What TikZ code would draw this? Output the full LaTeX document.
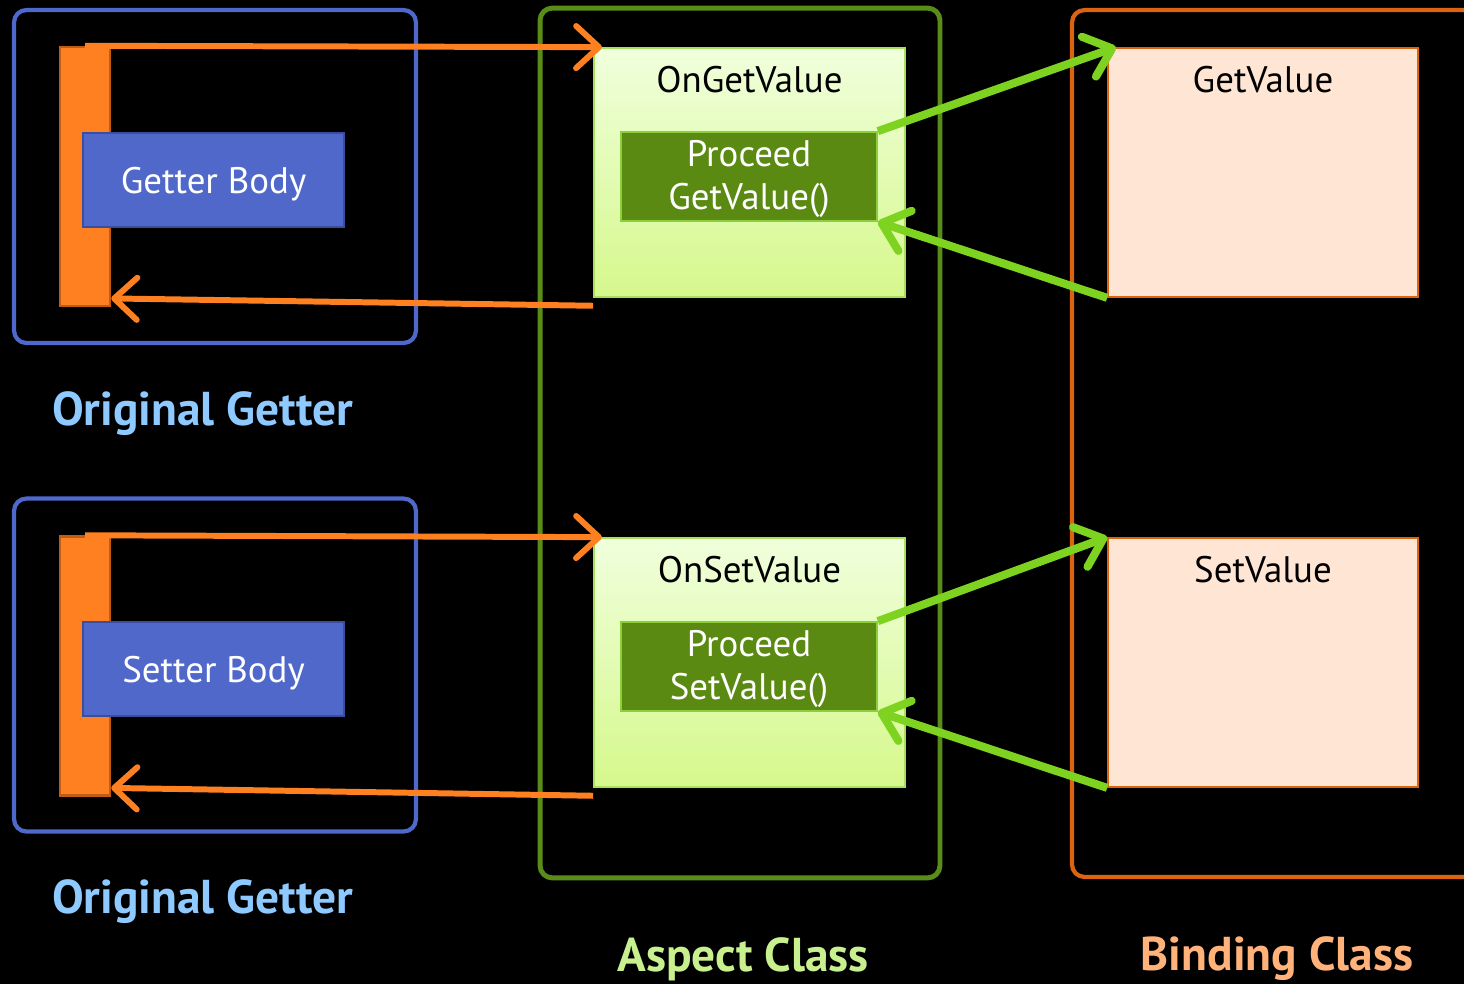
\documentclass[tikz,border=0pt]{standalone}
\usepackage{fontspec}
\setmainfont{PT Sans}
\usetikzlibrary{arrows.meta}

\definecolor{frameblue}{RGB}{78,104,204}
\definecolor{bodyblue}{RGB}{80,104,201}
\definecolor{bodyline}{RGB}{58,78,160}
\definecolor{barorange}{RGB}{255,128,32}
\definecolor{barline}{RGB}{192,92,24}
\definecolor{aspectgreen}{RGB}{90,140,26}
\definecolor{advtop}{RGB}{240,255,220}
\definecolor{advbottom}{RGB}{214,248,140}
\definecolor{advline}{RGB}{166,224,92}
\definecolor{procgreen}{RGB}{90,138,18}
\definecolor{procline}{RGB}{140,207,60}
\definecolor{arrowgreen}{RGB}{126,211,33}
\definecolor{bindorange}{RGB}{220,100,16}
\definecolor{bindfill}{RGB}{255,229,211}
\definecolor{titleblue}{RGB}{142,201,255}
\definecolor{titlegreen}{RGB}{201,240,143}
\definecolor{titleorange}{RGB}{255,178,122}

\tikzset{
  txt/.style={font=\fontsize{21}{25}\selectfont},
  title/.style={font=\fontsize{27}{31}\selectfont\bfseries},
  frame/.style={draw, line width=2.4pt, rounded corners=7pt},
  bar/.style={draw=barline, fill=barorange, line width=1.4pt,
    minimum width=1cm, minimum height=5.18cm},
  body/.style={draw=bodyline, fill=bodyblue, line width=1.6pt, txt, text=white,
    text depth=0pt, minimum width=5.22cm, minimum height=1.88cm},
  advice/.style={draw=advline, top color=advtop, bottom color=advbottom, line width=1pt,
    minimum width=6.22cm, minimum height=4.98cm},
  proceed/.style={draw=procline, fill=procgreen, line width=1pt,
    minimum width=5.12cm, minimum height=1.78cm},
  target/.style={draw=bindorange, fill=bindfill, line width=1pt,
    minimum width=6.2cm, minimum height=4.98cm},
  call/.style={draw=barorange, line width=3.4pt,
    -{Straight Barb[round, length=13pt, width=24pt]}},
  jump/.style={draw=arrowgreen, line width=4.6pt,
    -{Straight Barb[round, length=14pt, width=24pt]}}
}

\begin{document}
\begin{tikzpicture}[x=0.02cm, y=-0.02cm]
  \fill[black] (0,0) rectangle (1464,984);
  \useasboundingbox (0,0) rectangle (1464,984);

  % Marcos exteriores
  \node[frame, draw=frameblue, minimum width=8.04cm, minimum height=6.66cm] (getframe) at (215,176.5) {};
  \node[frame, draw=frameblue, minimum width=8.04cm, minimum height=6.66cm] (setframe) at (215,665) {};
  \node[frame, draw=aspectgreen, line width=2.8pt, minimum width=8cm, minimum height=17.4cm] (aspect) at (740,443) {};
  \node[frame, draw=bindorange, minimum width=8.08cm, minimum height=17.34cm] (binding) at (1274,443.5) {};

  % Getter y setter originales
  \node[bar] (getbar) at (85,176.5) {};
  \node[body] (getbody) at (213.5,180) {Getter Body};
  \node[bar] (setbar) at (85,666) {};
  \node[body] (setbody) at (213.5,669) {Setter Body};

  % Aspecto
  \node[advice] (ongv) at (749.5,172.5) {};
  \node[txt, text=black] (ongvlbl) at (749.5,80) {OnGetValue};
  \node[proceed] (procget) at (749,176.5) {};
  \node[txt, text=white, align=center] (procgetlbl) at (749,179) {Proceed\\GetValue()};
  \node[advice] (onsv) at (749.5,662.5) {};
  \node[txt, text=black] (onsvlbl) at (749.5,570) {OnSetValue};
  \node[proceed] (procset) at (749,666.5) {};
  \node[txt, text=white, align=center] (procsetlbl) at (749,669) {Proceed\\SetValue()};

  % Clase de enlace
  \node[target] (getval) at (1263,172.5) {};
  \node[txt, text=black] (getvallbl) at (1263,80) {GetValue};
  \node[target] (setval) at (1263,662.5) {};
  \node[txt, text=black] (setvallbl) at (1263,570) {SetValue};

  % Llamadas
  \draw[call] (getbar.north) -- ([xshift=5pt]ongv.north west);
  \draw[call] ([yshift=-4.5pt]ongv.south west) -- ([yshift=5pt]getbar.south east);
  \draw[call] (setbar.north) -- ([xshift=5pt]onsv.north west);
  \draw[call] ([yshift=-4.5pt]onsv.south west) -- ([yshift=5pt]setbar.south east);

  \draw[jump] (procget.north east) -- ([xshift=5pt]getval.north west);
  \draw[jump] (getval.south west) -- (procget.south east);
  \draw[jump] (procset.north east) -- (setval.north west);
  \draw[jump] (setval.south west) -- (procset.south east);

  % Titulos
  \node[title, text=titleblue, anchor=west] (gettitle) at (46,414) {Original Getter};
  \node[title, text=titleblue, anchor=west] (settitle) at (46,902) {Original Getter};
  \node[title, text=titlegreen] (aspecttitle) at (743,959) {Aspect Class};
  \node[title, text=titleorange] (bindtitle) at (1277,959) {Binding Class};
\end{tikzpicture}
\end{document}
